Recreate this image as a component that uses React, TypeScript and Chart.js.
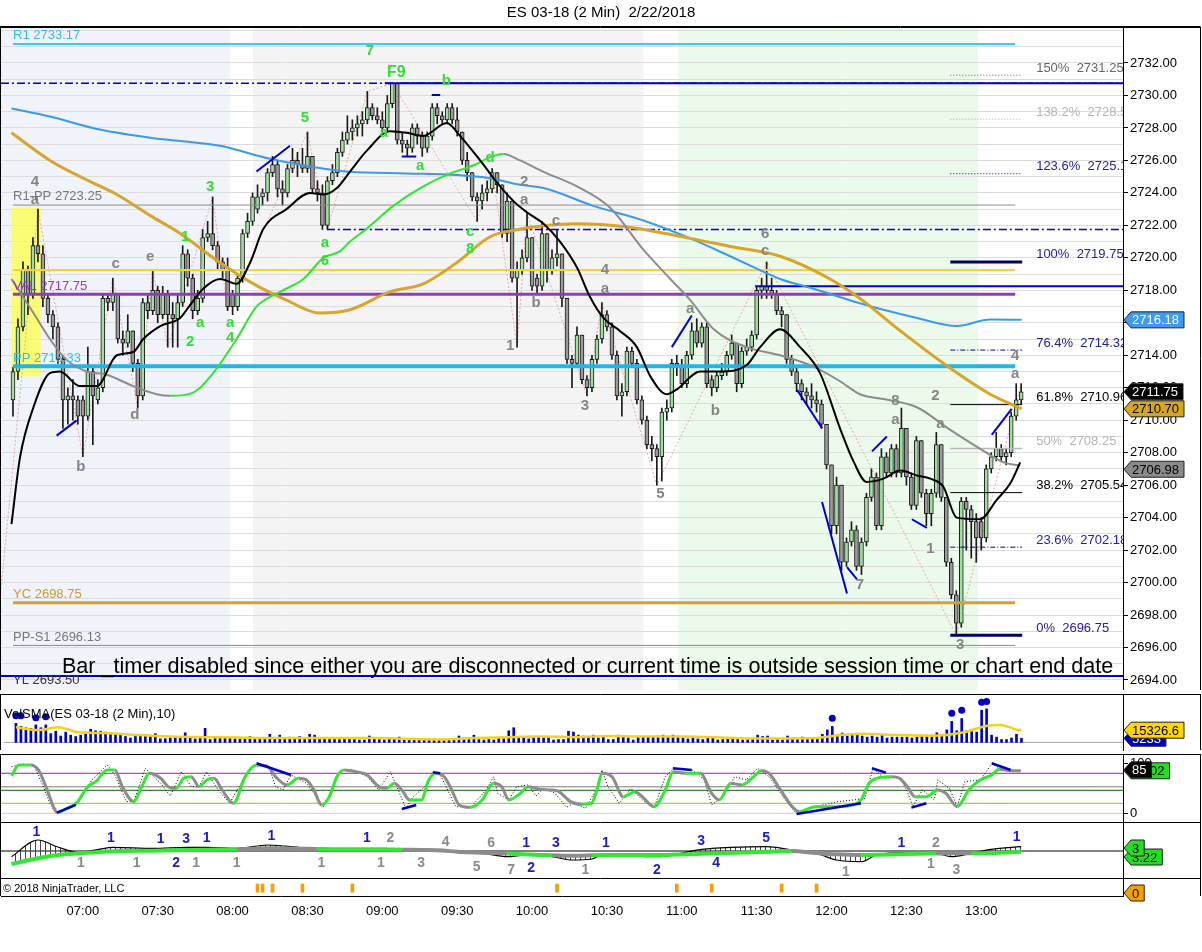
import React, { useEffect, useRef } from 'react';
import { Chart, registerables } from 'chart.js';

Chart.register(...registerables);

const FONT = 'Arial, "Liberation Sans", Helvetica, sans-serif';

// ---------------- data ----------------
const chartTitle = 'ES 03-18 (2 Min)  2/22/2018';
const firstBarTime = '06:32';
const barMinutes = 2;
const timeTickLabels = ['07:00', '07:30', '08:00', '08:30', '09:00', '09:30', '10:00', '10:30', '11:00', '11:30', '12:00', '12:30', '13:00'];

const opens = [
  2711.25, 2713.0, 2715.75, 2719.25, 2717.75, 2720.75, 2720.25, 2717.5, 2716.5, 2715.75,
  2713.75, 2711.25, 2711.5, 2711.25, 2711.25, 2710.25, 2713.0, 2711.25, 2712.0, 2717.5,
  2717.25, 2717.75, 2715.0, 2714.75, 2715.5, 2713.5, 2711.5, 2717.25, 2716.75, 2718.0,
  2716.5, 2717.75, 2716.5, 2716.25, 2717.25, 2720.25, 2718.75, 2716.75, 2717.5, 2721.25,
  2721.5, 2720.75, 2719.75, 2719.25, 2717.75, 2717.0, 2718.75, 2721.5, 2722.25, 2723.0,
  2723.75, 2724.0, 2725.25, 2725.75, 2724.25, 2724.0, 2725.5, 2726.0, 2725.75, 2725.5,
  2726.25, 2724.25, 2724.0, 2722.0, 2724.75, 2725.25, 2726.5, 2727.25, 2727.75, 2728.0,
  2728.25, 2728.5, 2729.25, 2728.75, 2728.5, 2728.0, 2729.5, 2730.75, 2727.25, 2727.0,
  2726.75, 2728.0, 2727.5, 2726.75, 2727.5, 2729.25, 2728.75, 2728.5, 2729.25, 2728.5,
  2727.75, 2726.0, 2725.25, 2723.75, 2723.5, 2724.0, 2724.25, 2725.25, 2724.5, 2721.5,
  2723.5, 2718.75, 2719.25, 2720.0, 2721.25, 2718.75, 2718.25, 2721.5, 2719.25, 2720.0,
  2720.25, 2717.5, 2713.75, 2713.5, 2715.25, 2712.5, 2712.0, 2713.75, 2715.0, 2716.5,
  2715.75, 2714.0, 2711.5, 2711.75, 2714.25, 2713.5, 2711.25, 2710.0, 2708.5, 2708.25,
  2707.75, 2710.5, 2710.75, 2713.5, 2713.25, 2712.25, 2714.0, 2715.5, 2714.75, 2715.75,
  2712.5, 2712.0, 2712.75, 2713.0, 2714.0, 2714.75, 2712.25, 2714.25, 2714.5, 2715.25,
  2718.0, 2718.25, 2718.0, 2717.75, 2716.75, 2716.5, 2713.75, 2713.0, 2712.25, 2711.75,
  2711.5, 2711.25, 2711.0, 2709.75, 2707.25, 2703.5, 2706.0, 2701.25, 2702.5, 2703.25,
  2701.0, 2702.5, 2705.25, 2706.5, 2703.5, 2707.75, 2706.75, 2708.25, 2706.75, 2709.5,
  2706.5, 2704.75, 2708.75, 2705.5, 2704.25, 2705.5, 2708.5, 2705.25, 2701.25, 2699.25,
  2697.5, 2705.0, 2704.5, 2703.75, 2703.75, 2702.75, 2707.0, 2707.75, 2708.25, 2707.75,
  2708.0, 2710.25, 2711.25,
];
const highs = [
  2713.25, 2716.25, 2719.75, 2719.5, 2721.25, 2723.0, 2720.75, 2717.75, 2716.75, 2716.0,
  2714.0, 2712.0, 2712.5, 2711.5, 2711.5, 2714.5, 2713.25, 2712.5, 2717.75, 2717.75,
  2718.75, 2717.75, 2715.5, 2716.5, 2715.5, 2713.75, 2717.5, 2717.75, 2719.25, 2718.25,
  2718.25, 2718.0, 2717.25, 2717.75, 2720.75, 2720.5, 2719.0, 2718.0, 2721.75, 2722.25,
  2723.75, 2721.0, 2720.0, 2720.0, 2718.0, 2719.0, 2721.75, 2722.75, 2724.0, 2724.5,
  2724.25, 2725.5, 2726.25, 2726.0, 2724.75, 2725.75, 2726.75, 2726.5, 2726.75, 2727.75,
  2726.25, 2724.75, 2724.5, 2725.0, 2725.75, 2726.75, 2727.75, 2728.75, 2728.5, 2728.75,
  2729.0, 2730.25, 2729.5, 2729.25, 2729.0, 2730.0, 2730.75, 2730.75, 2727.75, 2727.25,
  2728.25, 2728.25, 2727.75, 2727.75, 2729.5, 2729.5, 2729.0, 2729.5, 2729.5, 2729.25,
  2727.75, 2726.5, 2725.25, 2724.0, 2724.5, 2724.75, 2725.5, 2725.25, 2724.5, 2724.0,
  2723.5, 2719.75, 2720.5, 2722.75, 2721.25, 2719.0, 2722.25, 2721.5, 2720.5, 2721.75,
  2720.25, 2717.5, 2714.0, 2715.75, 2715.25, 2712.75, 2714.0, 2715.25, 2717.25, 2716.75,
  2716.0, 2714.25, 2712.25, 2714.5, 2714.5, 2713.75, 2711.5, 2710.25, 2709.0, 2708.5,
  2710.75, 2711.25, 2713.75, 2714.0, 2713.75, 2714.25, 2716.0, 2716.25, 2716.0, 2716.0,
  2712.75, 2713.0, 2713.5, 2714.25, 2715.25, 2714.75, 2714.5, 2715.0, 2715.5, 2718.25,
  2718.75, 2719.75, 2718.75, 2718.0, 2717.0, 2716.5, 2714.0, 2713.25, 2712.5, 2712.0,
  2712.25, 2711.75, 2711.25, 2709.75, 2707.25, 2706.5, 2706.0, 2702.75, 2703.75, 2703.5,
  2702.75, 2705.5, 2707.0, 2706.75, 2708.25, 2708.0, 2708.5, 2708.5, 2710.75, 2709.5,
  2706.75, 2709.0, 2708.75, 2705.75, 2705.75, 2709.25, 2708.5, 2705.25, 2701.5, 2699.5,
  2705.25, 2705.25, 2704.75, 2704.25, 2704.0, 2707.25, 2708.0, 2709.25, 2708.5, 2708.25,
  2710.5, 2712.25, 2712.25,
];
const lows = [
  2710.25, 2712.5, 2715.5, 2716.5, 2717.5, 2719.75, 2717.0, 2716.0, 2715.0, 2713.5,
  2709.5, 2709.75, 2710.0, 2709.75, 2707.75, 2710.0, 2708.5, 2711.0, 2711.75, 2716.75,
  2716.75, 2714.75, 2714.0, 2714.5, 2713.0, 2710.75, 2711.25, 2716.25, 2716.5, 2716.0,
  2716.25, 2714.5, 2714.5, 2714.5, 2717.0, 2718.25, 2716.25, 2716.5, 2717.25, 2721.0,
  2720.5, 2719.25, 2718.75, 2716.75, 2716.5, 2716.75, 2718.5, 2721.25, 2722.0, 2722.75,
  2723.25, 2723.5, 2725.0, 2723.75, 2723.25, 2723.75, 2725.25, 2725.0, 2725.25, 2725.25,
  2724.0, 2723.5, 2721.75, 2721.75, 2724.5, 2725.0, 2726.25, 2727.0, 2727.25, 2727.5,
  2727.5, 2728.25, 2728.5, 2728.25, 2727.75, 2727.75, 2729.25, 2727.0, 2726.5, 2726.25,
  2726.5, 2727.0, 2726.25, 2726.5, 2727.25, 2728.25, 2728.25, 2728.25, 2728.25, 2727.5,
  2725.75, 2724.75, 2723.5, 2722.25, 2723.0, 2723.5, 2724.0, 2724.0, 2721.25, 2721.0,
  2718.5, 2714.5, 2719.0, 2719.75, 2718.0, 2717.75, 2718.0, 2718.5, 2719.0, 2719.5,
  2717.0, 2713.5, 2712.0, 2713.25, 2712.25, 2711.5, 2711.75, 2713.5, 2714.75, 2715.5,
  2713.75, 2711.25, 2710.25, 2711.5, 2713.25, 2711.0, 2709.75, 2708.25, 2707.5, 2706.0,
  2706.25, 2710.0, 2710.5, 2712.75, 2712.0, 2712.0, 2713.75, 2714.5, 2714.5, 2712.0,
  2711.5, 2711.75, 2712.5, 2712.75, 2713.75, 2711.75, 2712.0, 2714.0, 2714.25, 2715.0,
  2717.5, 2717.5, 2717.5, 2716.5, 2715.75, 2713.5, 2712.75, 2711.75, 2711.25, 2711.0,
  2710.75, 2710.5, 2709.5, 2707.0, 2703.0, 2703.0, 2700.75, 2701.0, 2702.25, 2700.75,
  2700.5, 2702.25, 2705.0, 2703.25, 2703.25, 2706.5, 2706.5, 2706.5, 2706.5, 2706.0,
  2704.5, 2704.5, 2705.25, 2703.5, 2703.5, 2705.25, 2705.0, 2701.0, 2699.0, 2696.75,
  2697.25, 2702.0, 2701.5, 2701.25, 2702.0, 2702.5, 2706.75, 2707.5, 2707.5, 2707.25,
  2707.75, 2710.0, 2711.0,
];
const closes = [
  2713.0, 2715.75, 2719.25, 2717.75, 2720.75, 2720.25, 2717.5, 2716.5, 2715.75, 2713.75,
  2711.25, 2711.5, 2711.25, 2710.25, 2710.25, 2713.0, 2711.5, 2712.0, 2717.5, 2717.25,
  2717.75, 2715.0, 2714.75, 2715.5, 2713.5, 2711.5, 2717.25, 2716.75, 2718.0, 2716.5,
  2717.75, 2716.5, 2716.25, 2717.25, 2720.25, 2718.75, 2716.75, 2717.5, 2721.25, 2721.5,
  2720.75, 2719.75, 2719.25, 2717.0, 2717.0, 2718.75, 2721.5, 2722.25, 2723.75, 2723.75,
  2724.0, 2725.25, 2725.75, 2724.25, 2724.0, 2725.5, 2726.0, 2725.75, 2725.5, 2726.25,
  2724.25, 2724.0, 2722.0, 2724.75, 2725.25, 2726.5, 2727.25, 2727.75, 2728.0, 2728.25,
  2728.5, 2729.25, 2728.75, 2728.5, 2728.0, 2729.5, 2730.75, 2727.25, 2727.0, 2726.75,
  2728.0, 2727.5, 2726.75, 2727.5, 2729.25, 2728.75, 2728.5, 2729.25, 2728.5, 2727.75,
  2726.0, 2725.25, 2723.75, 2723.5, 2724.0, 2724.25, 2725.25, 2724.5, 2721.5, 2723.5,
  2718.75, 2719.25, 2720.0, 2721.25, 2718.25, 2718.25, 2721.5, 2719.25, 2720.0, 2720.25,
  2717.5, 2713.75, 2713.5, 2715.25, 2712.5, 2712.0, 2713.75, 2715.0, 2716.5, 2715.75,
  2714.0, 2711.5, 2711.75, 2714.25, 2713.5, 2711.25, 2710.0, 2708.5, 2708.25, 2707.75,
  2710.5, 2710.75, 2713.5, 2713.25, 2712.25, 2714.0, 2715.5, 2714.75, 2715.75, 2712.25,
  2712.0, 2712.75, 2713.0, 2714.0, 2714.75, 2712.25, 2714.25, 2714.5, 2715.25, 2718.0,
  2718.25, 2718.0, 2717.75, 2716.75, 2716.5, 2713.75, 2713.0, 2712.25, 2711.75, 2711.5,
  2711.25, 2711.0, 2709.75, 2707.25, 2703.5, 2706.0, 2701.25, 2702.5, 2703.25, 2701.0,
  2702.5, 2705.25, 2706.5, 2703.5, 2707.75, 2706.75, 2708.25, 2706.75, 2709.5, 2706.5,
  2704.75, 2708.75, 2705.5, 2704.25, 2705.5, 2708.5, 2705.25, 2701.25, 2699.25, 2697.5,
  2705.0, 2704.5, 2703.75, 2702.75, 2702.75, 2707.0, 2707.75, 2708.25, 2707.75, 2708.0,
  2710.25, 2711.25, 2711.75,
];
const volumes = [
  23900, 20100, 18400, 17600, 22000, 18400, 22000, 11000, 14000, 8000,
  12900, 9100, 7400, 9100, 12900, 16500, 14600, 14000, 12900, 11000,
  11000, 11000, 7400, 5500, 8500, 8500, 9900, 8500, 11000, 4400,
  4700, 5500, 7400, 7400, 12100, 5500, 4400, 5500, 17600, 3600,
  7400, 6300, 6300, 6300, 4700, 4400, 6300, 7400, 6300, 4400,
  6300, 10200, 6300, 9100, 6300, 6600, 6300, 7400, 6300, 10200,
  9100, 6300, 6300, 4700, 4400, 3600, 5500, 5500, 3600, 3000,
  3000, 8000, 5500, 3600, 3000, 4400, 4700, 6600, 4700, 4700,
  4700, 4700, 4400, 4400, 3600, 3000, 3000, 3000, 3600, 8000,
  5500, 5500, 9100, 3600, 3000, 3600, 3000, 6600, 4700, 14600,
  18400, 5500, 5500, 4400, 5500, 7400, 5500, 7400, 3000, 3600,
  3600, 14000, 12900, 9100, 8000, 7400, 9100, 5500, 6300, 3600,
  3600, 9100, 8000, 5500, 3000, 7400, 6300, 7400, 7400, 8000,
  9100, 7400, 9100, 8000, 5500, 4400, 6300, 4400, 3600, 5500,
  5500, 3000, 3600, 4400, 4400, 5500, 3000, 3600, 4400, 9100,
  7400, 8000, 3000, 4400, 3000, 8000, 5500, 4400, 6600, 5500,
  4400, 5500, 10200, 15700, 20100, 9100, 11800, 8000, 10200, 10200,
  8000, 6600, 8000, 6600, 9100, 5500, 6600, 6600, 6600, 6600,
  5500, 6600, 9100, 9100, 9100, 12100, 8000, 15700, 26400, 14600,
  30000, 14600, 15400, 12900, 40400, 42100, 9100, 6600, 3600, 3600,
  5500, 10200, 5233,
];
const volSma = [
  [0, 19000], [4.5, 15400], [8.5, 19000], [12.5, 12800], [17.8, 11700], [24.5, 9200], [31.2, 7300],
  [37.8, 6600], [44.5, 6200], [51.2, 5500], [57.9, 5500], [64.6, 5500], [72.2, 5500], [78.9, 4400],
  [85.5, 3700], [92.2, 5500], [98.9, 6600], [105.6, 7300], [112.3, 6600], [119, 8100], [125.7, 7300],
  [132.4, 7300], [140.4, 6600], [147, 4800], [153.7, 4800], [160.4, 5500], [165.7, 9200], [170.4, 11000],
  [177, 9200], [183.8, 8400], [190.5, 12800], [195.1, 21000], [197.8, 22000], [201.1, 16000], [202, 15326.6],
];
const volDotBars = [0, 1, 4, 6, 164, 188, 190, 194, 195];
const volDotValues = [33600, 33600, 31100, 32200, 30400, 36600, 40300, 50600, 51300];
const volTagValues = [5233, 15326.6];

const fastMA = [
  [-0.3, 2703.6], [1.4, 2707.7], [4.1, 2710.8], [7.4, 2712.9], [9.4, 2713.0], [13.4, 2712.1], [16.8, 2712.1],
  [20.8, 2714.0], [24.1, 2714.2], [26.1, 2715.0], [29.5, 2715.8], [33.5, 2716.3], [35.5, 2717.1], [38.1, 2718.1],
  [41.5, 2718.7], [44.8, 2718.4], [47.5, 2719.7], [50.2, 2721.8], [54.8, 2723.0], [59.5, 2724.0], [62.2, 2723.9],
  [64.9, 2724.3], [67.5, 2725.3], [70.9, 2726.6], [75.5, 2727.8], [78.9, 2727.7], [82.2, 2727.5], [86.9, 2728.3],
  [89.6, 2727.5], [93.6, 2726.0], [97.6, 2724.4], [100.6, 2723.4], [103, 2722.8], [106.3, 2722.1], [109.6, 2721.0],
  [113, 2719.4], [115.6, 2717.6], [118.3, 2716.3], [121.6, 2715.5], [125, 2714.5], [127.7, 2712.7], [131, 2711.6],
  [133, 2711.9], [137.7, 2713.0], [141.7, 2713.0], [147, 2713.4], [149.7, 2714.5], [153.7, 2715.6], [157.7, 2714.5],
  [161.7, 2712.9], [165.7, 2709.5], [168.5, 2707.4], [171, 2706.2], [174.4, 2706.4], [177.8, 2706.9], [181.1, 2706.6],
  [183.8, 2706.4], [186.4, 2705.9], [189.1, 2704.0], [193.8, 2703.9], [197.1, 2705.1], [199.8, 2706.1], [201.8, 2707.4],
];
const midMA = [
  [-0.3, 2718.7], [4.1, 2716.6], [7.4, 2715.0], [10.8, 2713.7], [14.8, 2713.0], [18.8, 2712.8], [24.1, 2712.1],
  [28.8, 2711.6], [31.5, 2711.5], [36.1, 2711.7], [40.1, 2712.9], [44.8, 2715.0], [48.8, 2717.0], [53.5, 2717.9],
  [58.2, 2718.7], [62.2, 2720.0], [65.5, 2720.4], [67.5, 2721.0], [70.9, 2721.8], [76.2, 2723.2], [82.2, 2724.4],
  [87.6, 2725.2], [92.3, 2725.7], [95.6, 2726.2], [98.3, 2726.4], [101.6, 2726.0], [106.3, 2725.3], [113, 2724.4],
  [119.6, 2723.1], [126.3, 2720.5], [131.7, 2718.7], [135.7, 2717.4], [140.4, 2715.6], [147, 2714.5], [153.7, 2714.0],
  [160.4, 2713.3], [165.7, 2712.4], [169.7, 2711.6], [174.4, 2711.3], [181.1, 2710.8], [187.8, 2709.4], [194.5, 2708.1],
  [198.5, 2707.4], [201.8, 2707.2],
];
const blueMA = [
  [-0.3, 2729.2], [7.4, 2728.7], [17.4, 2727.9], [27.5, 2727.4], [33.5, 2727.2], [41.5, 2726.9], [51.5, 2726.1],
  [58.2, 2725.7], [67.5, 2725.3], [78.9, 2725.2], [88.9, 2725.1], [95.6, 2724.9], [101.6, 2724.5], [106.3, 2724.3],
  [116.3, 2723.2], [126.3, 2722.3], [135.7, 2721.2], [143.7, 2720.1], [153.7, 2718.7], [160.4, 2718.1], [169.7, 2717.2],
  [174.4, 2716.8], [181.1, 2716.3], [189.1, 2715.8], [195.8, 2716.2], [202.1, 2716.18],
];
const goldMA = [
  [-0.3, 2727.7], [7.4, 2726.0], [14.1, 2724.9], [20.8, 2723.9], [27.5, 2722.6], [33.5, 2721.5], [41.5, 2719.7],
  [48.2, 2718.4], [54.8, 2717.4], [61.5, 2716.6], [67.5, 2716.8], [75.5, 2717.9], [82.2, 2718.4], [88.9, 2719.7],
  [95.6, 2721.3], [100.3, 2721.7], [113, 2722.1], [123, 2721.9], [135.7, 2721.2], [143.7, 2720.7], [153.7, 2720.1],
  [163.7, 2718.7], [169.7, 2717.5], [177.8, 2715.5], [187.8, 2713.2], [195.8, 2711.6], [202.1, 2710.7],
];
const zigzag = [
  [-2.4, 2699.6], [5, 2723.0], [14, 2707.75], [20, 2718.75], [25, 2710.75], [28, 2719.25], [31, 2714.5],
  [40, 2723.75], [43, 2716.75], [59, 2727.75], [63, 2721.75], [71, 2730.25], [76, 2730.75], [93, 2722.25],
  [96, 2725.5], [101, 2714.5], [103, 2722.75], [115, 2711.5], [118, 2717.25], [129, 2706.0], [151, 2719.75],
  [189, 2696.75], [202, 2712.25],
];
const trendSegments = [
  [[8.75, 2709.05], [12.76, 2709.99]], [[48.8, 2725.32], [55.5, 2726.9]], [[77.9, 2726.24], [80.8, 2726.24]],
  [[83.9, 2730.03], [85.6, 2730.03]], [[132, 2714.5], [136, 2716.45]], [[157.1, 2711.87], [162.1, 2709.5]],
  [[162.1, 2704.96], [167.1, 2699.33]], [[167.1, 2700.95], [169.1, 2700.2]], [[172.1, 2708.08], [175.1, 2709.0]],
  [[180.1, 2703.9], [183.1, 2703.37]], [[196.1, 2709.1], [200.1, 2710.7]],
];
// horizontal levels: [fromBar, toBar, price]
const levelLines = [
  [0, 200.8, 2733.17], [-2.4, 222.4, 2730.75], [74.5, 222.4, 2730.75], [0, 200.8, 2723.25],
  [62.9, 222.4, 2721.75], [0, 200.8, 2719.25], [148.7, 222.4, 2718.25], [0, 200.8, 2717.75],
  [0, 200.8, 2713.33], [0, 200.8, 2698.75], [0, 200.8, 2696.13], [-2.4, 222.4, 2694.25],
];
const levelLabelTexts = ['R1 2733.17', 'R1-PP 2723.25', 'VAL 2717.75', 'PP 2713.33', 'YC 2698.75', 'PP-S1 2696.13', 'YL 2693.50'];
const levelLabelPrices = [2733.72, 2723.81, 2718.27, 2713.83, 2699.24, 2696.65, 2694.0];
const fibPercents = ['150%', '138.2%', '123.6%', '100%', '76.4%', '61.8%', '50%', '38.2%', '23.6%', '0%'];
const fibPrices = [2731.25, 2728.54, 2725.18, 2719.75, 2714.32, 2710.96, 2708.25, 2705.54, 2702.18, 2696.75];
const fibSpan = [187.8, 202.2];
const sessionZones = [[-2.4, 43.5], [48.1, 126.3], [133.3, 193.4]];
const highlightBox = [[-0.3, 5.55], [2712.7, 2723.1]];
const priceTags = [2716.18, 2711.75, 2710.70, 2706.98];
const grayLabels = [
  [4.4, 2724.7, '4'], [4.4, 2723.56, 'a'], [13.6, 2707.1, 'b'], [20.6, 2719.6, 'c'], [24.4, 2710.3, 'd'],
  [27.5, 2720.05, 'e'], [99.6, 2714.6, '1'], [102.4, 2724.7, '2'], [102.4, 2723.6, 'a'], [104.8, 2717.2, 'b'],
  [108.8, 2722.3, 'c'], [114.6, 2710.9, '3'], [118.6, 2719.25, '4'], [118.6, 2718.1, 'a'], [129.7, 2705.45, '5'],
  [135.7, 2716.85, 'a'], [140.7, 2710.6, 'b'], [150.7, 2721.5, '6'], [150.7, 2720.4, 'c'], [169.7, 2699.85, '7'],
  [176.8, 2711.2, '8'], [176.8, 2710.0, 'a'], [184.8, 2711.5, '2'], [185.8, 2709.8, 'a'], [183.8, 2702.1, '1'],
  [189.8, 2696.15, '3'], [200.8, 2713.95, '4'], [200.8, 2712.85, 'a'],
];
const greenLabels = [
  [71.5, 2732.74, '7'], [76.8, 2731.4, 'F9'], [86.8, 2730.9, 'b'], [74.3, 2727.7, 'a'], [81.6, 2725.65, 'a'],
  [58.5, 2728.6, '5'], [39.5, 2724.4, '3'], [34.5, 2721.3, '1'], [37.5, 2716.0, 'a'], [35.5, 2714.8, '2'],
  [43.5, 2716.0, 'a'], [43.5, 2715.05, '4'], [62.5, 2720.9, 'a'], [62.5, 2719.8, '6'], [91.6, 2721.6, 'c'],
  [91.6, 2720.55, '8'], [95.6, 2726.15, 'd'],
];
const timerText = 'Bar _timer disabled since either you are disconnected or current time is outside session time or chart end date';
const timerAnchor = [9.8, 2694.8];

const stochD = [
  [-0.3, 74.7], [1.2, 96.7], [3.5, 96.7], [5.1, 86.7], [6.6, 53.3], [8.1, 13.3], [8.9, 1.3], [10.8, 10], [12.7, 20],
  [15.0, 53.3], [16.6, 63.3], [18.9, 86.7], [20.4, 86.7], [21.9, 53.3], [24.2, 23.3], [25.8, 53.3], [27.3, 80],
  [29.6, 70], [31.1, 53.3], [32.7, 50], [34.2, 70], [35.7, 73.3], [37.3, 53.3], [38.8, 66.7], [40.3, 70], [41.9, 46.7],
  [44.2, 20], [46.5, 73.3], [48.8, 96.7], [51.1, 93.3], [52.6, 73.3], [54.9, 56.7], [57.2, 70], [58.8, 66.7],
  [60.3, 46.7], [61.8, 16.7], [63.4, 33.3], [64.9, 73.3], [66.4, 86.7], [68.7, 83.3], [71.0, 76.7], [73.3, 53.3],
  [74.9, 50], [76.4, 60], [77.9, 46.7], [79.5, 26.7], [81.8, 26.7], [83.3, 66.7], [84.8, 80], [86.4, 73.3],
  [87.9, 46.7], [89.4, 16.7], [91.7, 12], [94.0, 26.7], [96.3, 60], [97.9, 53.3], [99.4, 26.7], [101.7, 40],
  [103.2, 53.3], [105.5, 48], [107.8, 46.7], [109.4, 43.3], [111.7, 23.3], [114.0, 18], [115.9, 20], [117.0, 46.7],
  [118.0, 80], [120.0, 73.3], [122.3, 33.3], [124.6, 43.3], [126.1, 33.3], [128.4, 13.3], [130.7, 46.7], [132.3, 83.3],
  [134.6, 80], [137.7, 80], [140.0, 40], [141.5, 26.7], [143.8, 60], [146.1, 56.7], [148.4, 73.3], [149.9, 85.3],
  [151.5, 80], [153.8, 46.7], [156.1, 13.3], [157.6, 3.3], [160.7, 13.3], [165.3, 13.3], [168.4, 16.7], [169.9, 26.7],
  [171.5, 60], [173.8, 72], [176.1, 73.3], [177.6, 70], [179.2, 53.3], [180.7, 33.3], [183.0, 33.3], [185.3, 46.7],
  [186.9, 40], [189.2, 13.3], [191.5, 46.7], [193.8, 66.7], [196.1, 76.7], [197.6, 88], [199.9, 85.3], [201.9, 85.02],
];
const stochK = [
  [-0.3, 93.3], [2.0, 98.7], [4.3, 93.3], [5.8, 60], [7.4, 20], [8.5, 1.3], [11.2, 13.3], [13.5, 26.7], [15.8, 66.7],
  [18.9, 96.7], [20.4, 76.7], [22.7, 23.3], [24.2, 23.3], [26.5, 90], [29.6, 60], [31.5, 34.7], [33.8, 83.3],
  [35.7, 53.3], [37.3, 53.3], [38.8, 83.3], [41.1, 46.7], [43.4, 20], [45.7, 60], [47.6, 93.3], [51.1, 96.7],
  [52.6, 53.3], [54.1, 46.7], [55.7, 76.7], [58.8, 60], [60.3, 40], [62.2, 13.3], [64.1, 53.3], [65.7, 86.7],
  [67.9, 86.7], [71.0, 73.3], [73.3, 46.7], [75.6, 83.3], [77.2, 46.7], [78.7, 10], [80.2, 33.3], [82.5, 53.3],
  [84.1, 80], [85.6, 76.7], [87.1, 46.7], [88.7, 13.3], [91.7, 12], [94.8, 46.7], [96.3, 73.3], [97.1, 40],
  [99.4, 26.7], [100.9, 53.3], [103.2, 56.7], [104.8, 34.7], [106.3, 50], [108.6, 40], [110.9, 12], [112.4, 20],
  [114.7, 10], [117.0, 50], [118.0, 86.7], [119.2, 53.3], [121.5, 20], [123.8, 50], [126.1, 26.7], [128.4, 10],
  [130.7, 73.3], [132.3, 88.7], [136.1, 86.7], [138.5, 66.7], [140.0, 16.7], [142.3, 33.3], [144.6, 73.3],
  [146.9, 66.7], [149.2, 90], [151.5, 73.3], [153.8, 40], [156.9, 0], [160.7, 13.3], [165.3, 23.3], [168.4, 26.7],
  [170.7, 30], [172.3, 90], [174.6, 70], [177.6, 73.3], [179.2, 43.3], [180.3, 13.3], [182.2, 46.7], [184.6, 26.7],
  [185.3, 66.7], [187.6, 50], [189.2, 13.3], [190.7, 63.3], [193.8, 66.7], [196.1, 98.7], [198.4, 86.7],
  [200.7, 85.3], [201.9, 85.3],
];
const stochSegments = [
  [[8.8, 1.3], [12.6, 16.7]], [[48.8, 100], [55.7, 76.7]], [[77.9, 8.7], [80.8, 16.7]], [[84.1, 82], [85.6, 80]],
  [[132.2, 90], [136.0, 86.7]], [[157, -1.3], [169.9, 20]], [[172.1, 90], [174.9, 81.3]], [[180, 11.3], [183, 20]],
  [[196.1, 100], [199.9, 86.7]],
];
const stochLevels = [80, 53, 46, 20, 0];
const stochTicks = [0, 100];
const stochTags = ['85.02', '85'];

const oscFast = [
  [-0.3, -5.7], [5, 11], [9, 4], [13, -1.3], [17, 1.5], [20, 3.7], [28, 2.7], [35, 3.7], [39, 3.7], [45, 2.7],
  [51, 6], [56, 4.3], [61, 1], [66, 1.7], [74, 1.7], [78, 1], [82, 0.3], [86, 1], [89, -1.3], [94, -2.3],
  [99, -5.7], [103, -4], [108, -5.7], [112, -9], [116, -8], [118, -4], [129, -5.7], [138, 1.7], [151, 4.3],
  [156, 1], [161, -2.5], [165, -9], [170, -10.7], [173, -4], [179, -1.7], [185, -2.3], [188, -5.7], [192, -2.3],
  [196, 1.7], [202, 4.3],
];
const oscSlow = [
  [-0.3, -13], [5, -7.3], [9, -4], [13, -2.3], [17, -1.2], [20, -0.3], [28, 0.3], [35, 1], [39, 1.3], [45, 1.7],
  [51, 2.7], [56, 2.5], [61, 2], [66, 1.7], [74, 1.7], [78, 1.3], [82, 1], [86, 0.5], [89, -0.7], [94, -1.7],
  [99, -2.5], [103, -3.5], [108, -4.2], [112, -4.7], [116, -4.3], [118, -4], [129, -4], [138, -2.8], [151, -0.7],
  [156, 0], [161, -2], [165, -3.3], [170, -4], [173, -3.8], [179, -3], [185, -2.5], [188, -2.3], [192, -2.3],
  [196, -2], [202, -0.7],
];
const oscGrayRanges = [[43, 59], [76, 98], [104, 114], [152, 170], [184, 191]];
const oscBlueLabels = [
  [4.7, 19.3, '1'], [19.6, 13, '1'], [29.6, 12, '1'], [34.7, 12, '3'], [38.8, 13, '1'], [51.8, 15, '1'],
  [70.9, 13, '1'], [32.7, -12, '2'], [102.8, 8, '1'], [108.8, 8, '3'], [103.8, -17, '2'], [118.8, 8, '1'],
  [129, -19, '2'], [137.9, 10, '3'], [140.9, -12, '4'], [150.9, 13, '5'], [178, 8.3, '1'], [201.1, 14.3, '1'],
];
const oscGrayLabels = [
  [13.6, -12, '1'], [24.8, -12, '1'], [36.7, -12, '1'], [44.8, -12, '1'], [61.8, -12, '1'], [73.7, -12, '1'],
  [75.6, 13, '2'], [81.8, -12, '3'], [86.7, 9, '4'], [92.9, -16, '5'], [95.8, 8, '6'], [99.8, -19, '7'],
  [114.7, -19, '1'], [166.9, -20.7, '1'], [184.9, 8, '2'], [183.9, -13, '1'], [189, -19, '3'],
];
const oscTags = [['3.22', -6], ['3', 3]];
const markerBars = [49, 50, 52, 58, 68, 109, 133, 140, 154, 161];
const copyrightText = '\u00a9 2018 NinjaTrader, LLC';
const volTitle = 'VolSMA(ES 03-18 (2 Min),10)';

// ---------------- layout constants ----------------
const W = 1202;
const X_MIN = -2.4;
const X_MAX = 222.4;
const AXIS_W = 79;
const GREEN = '#33e633';
const GRAY = '#8c8c8c';

const toMin = (s: string) => {
  const [h, m] = s.split(':').map(Number);
  return h * 60 + m;
};
const timeTickBars = timeTickLabels.map((t) => (toMin(t) - toMin(firstBarTime)) / barMinutes);

const pts = (pairs: number[][]) => pairs.map(([x, y]) => ({ x, y }));
const lineDs = (data: any[], color: string, width: number, extra: any = {}) => ({
  type: 'line',
  data,
  borderColor: color,
  borderWidth: width,
  pointRadius: 0,
  fill: false,
  tension: 0,
  ...extra,
});

const fitY = (s: any) => {
  s.width = AXIS_W;
  s.paddingTop = 0;
  s.paddingBottom = 0;
  s.paddingLeft = 0;
  s.paddingRight = 0;
};

const xHidden = { type: 'linear', min: X_MIN, max: X_MAX, offset: false, display: false };

const baseOptions = () => ({
  responsive: false,
  animation: false,
  events: [],
  devicePixelRatio: 1,
  layout: { padding: { left: 1, right: 0, top: 0, bottom: 0 } },
  plugins: { legend: { display: false }, tooltip: { enabled: false }, title: { display: false } },
});

function drawTag(ctx: CanvasRenderingContext2D, x: number, y: number, text: string, bg: string, fg: string) {
  ctx.save();
  ctx.font = `13px ${FONT}`;
  const w = ctx.measureText(text).width + 13;
  ctx.beginPath();
  ctx.moveTo(x, y);
  ctx.lineTo(x + 7, y - 8);
  ctx.lineTo(x + w, y - 8);
  ctx.lineTo(x + w, y + 8);
  ctx.lineTo(x + 7, y + 8);
  ctx.closePath();
  ctx.fillStyle = bg;
  ctx.fill();
  ctx.strokeStyle = '#222';
  ctx.lineWidth = 1;
  ctx.stroke();
  ctx.fillStyle = fg;
  ctx.textAlign = 'left';
  ctx.textBaseline = 'middle';
  ctx.fillText(text, x + 8, y + 1);
  ctx.restore();
}

function drawFrame(chart: any) {
  const { ctx, chartArea: a } = chart;
  ctx.save();
  ctx.strokeStyle = '#000';
  ctx.lineWidth = 1;
  ctx.beginPath();
  ctx.moveTo(0, a.top + 0.5);
  ctx.lineTo(1200.5, a.top + 0.5);
  ctx.moveTo(0.5, a.top);
  ctx.lineTo(0.5, a.bottom);
  ctx.moveTo(1200.5, a.top);
  ctx.lineTo(1200.5, a.bottom);
  ctx.stroke();
  ctx.restore();
}

function drawTexts(chart: any, items: any[], color: string, font: string) {
  const { ctx, scales } = chart;
  ctx.save();
  ctx.fillStyle = color;
  ctx.font = font;
  ctx.textAlign = 'center';
  ctx.textBaseline = 'middle';
  items.forEach(([x, y, t]) => {
    ctx.fillText(t, scales.x.getPixelForValue(x), scales.y.getPixelForValue(y));
  });
  ctx.restore();
}

// ---------------- charts ----------------
function buildPrice(canvas: HTMLCanvasElement) {
  const levelStyles = [
    { c: '#33ccff', w: 2 }, { c: '#0000cc', w: 1.5, d: [8, 3, 2, 3] }, { c: '#0000cc', w: 2 }, { c: '#8a8a8a', w: 1 },
    { c: '#0000dd', w: 1.5, d: [8, 3, 2, 3] }, { c: '#ffd21f', w: 2 }, { c: '#0000cc', w: 2 }, { c: '#9933cc', w: 3 },
    { c: '#1ab6f0', w: 4 }, { c: '#d4a030', w: 3 }, { c: '#8a8a8a', w: 1 }, { c: '#0000cc', w: 2 },
  ];
  const fibStyles = [
    { c: '#666', w: 1, d: [1, 2] }, { c: '#aaa', w: 1, d: [1, 2] }, { c: '#000080', w: 1, d: [1, 2] }, { c: '#000066', w: 3 },
    { c: '#000080', w: 1, d: [5, 2, 1, 2] }, { c: '#000', w: 1 }, { c: '#b8b8b8', w: 1.5 }, { c: '#000', w: 1 },
    { c: '#000080', w: 1, d: [5, 2, 1, 2] }, { c: '#000066', w: 3 },
  ];
  const fibColors = ['#666666', '#b4b4b4', '#22229a', '#22229a', '#22229a', '#000', '#b4b4b4', '#000', '#22229a', '#22229a'];
  const levelLabelColors = ['#33bbee', '#777', '#9933cc', '#33c4dd', '#c89a30', '#777', '#333'];
  const tagStyles = [['#3d9cf0', '#fff'], ['#000', '#fff'], ['#d9a521', '#000'], ['#8a8a8a', '#000']];

  const datasets: any[] = [];
  datasets.push(lineDs(pts(zigzag), '#e8a8a8', 1, { borderDash: [2, 2], order: 40 }));
  datasets.push({
    type: 'bar',
    data: highs.map((h, i) => ({ x: i, y: [lows[i], h] })),
    backgroundColor: '#1a1a1a',
    barThickness: 1,
    grouped: false,
    order: 30,
  });
  datasets.push({
    type: 'bar',
    data: closes.map((c, i) => ({ x: i, y: [opens[i], c] })),
    backgroundColor: (c: any) => (closes[c.dataIndex] >= opens[c.dataIndex] ? '#9fe09f' : '#9a9a9a'),
    borderColor: '#1a1a1a',
    borderWidth: 1,
    borderSkipped: false,
    barThickness: 4,
    minBarLength: 1,
    grouped: false,
    order: 29,
  });
  levelLines.forEach(([a, b, p], k) => {
    const s: any = levelStyles[k];
    datasets.push(lineDs([{ x: a, y: p }, { x: b, y: p }], s.c, s.w, { borderDash: s.d || [], order: 20 }));
  });
  fibPrices.forEach((p, k) => {
    const s: any = fibStyles[k];
    datasets.push(lineDs([{ x: fibSpan[0], y: p }, { x: fibSpan[1], y: p }], s.c, s.w, { borderDash: s.d || [], order: 20 }));
  });
  datasets.push(lineDs(pts(blueMA), '#3a9ae8', 2, { cubicInterpolationMode: 'monotone', order: 12 }));
  datasets.push(lineDs(pts(goldMA), '#d6a52a', 3, { cubicInterpolationMode: 'monotone', order: 11 }));
  datasets.push(
    lineDs(pts(midMA), GRAY, 2, {
      cubicInterpolationMode: 'monotone',
      order: 10,
      segment: { borderColor: (c: any) => (c.p1.parsed.y >= c.p0.parsed.y ? '#2ee62e' : GRAY) },
    }),
  );
  datasets.push(lineDs(pts(fastMA), '#000', 2, { cubicInterpolationMode: 'monotone', order: 9 }));
  trendSegments.forEach((seg) => datasets.push(lineDs(pts(seg), '#0000cc', 2, { order: 5 })));

  const decor = {
    id: 'priceDecor',
    beforeDraw(chart: any) {
      const { ctx, chartArea: a, scales } = chart;
      const zoneColors = ['#f1f3fa', '#f4f4f4', '#ebfaeb'];
      ctx.save();
      sessionZones.forEach(([s, e], k) => {
        const x1 = Math.max(a.left, scales.x.getPixelForValue(s));
        const x2 = Math.min(a.right, scales.x.getPixelForValue(e));
        ctx.fillStyle = zoneColors[k];
        ctx.fillRect(x1, a.top, x2 - x1, a.bottom - a.top);
      });
      ctx.restore();
    },
    beforeDatasetsDraw(chart: any) {
      const { ctx, scales } = chart;
      const [[bx0, bx1], [by0, by1]] = highlightBox;
      const x0 = scales.x.getPixelForValue(bx0);
      const x1 = scales.x.getPixelForValue(bx1);
      const y0 = scales.y.getPixelForValue(by1);
      const y1 = scales.y.getPixelForValue(by0);
      ctx.save();
      ctx.fillStyle = 'rgba(255,255,60,0.7)';
      ctx.fillRect(x0, y0, x1 - x0, y1 - y0);
      ctx.restore();
    },
    afterDatasetsDraw(chart: any) {
      const { ctx, chartArea: a, scales } = chart;
      ctx.save();
      ctx.beginPath();
      ctx.rect(a.left, a.top, a.right - a.left, a.bottom - a.top);
      ctx.clip();
      drawTexts(chart, grayLabels, '#858585', `bold 15px ${FONT}`);
      drawTexts(chart, greenLabels.filter((g) => g[2] !== 'F9'), '#33dd33', `bold 15px ${FONT}`);
      drawTexts(chart, greenLabels.filter((g) => g[2] === 'F9'), '#33dd33', `bold 16px ${FONT}`);
      ctx.textAlign = 'left';
      ctx.textBaseline = 'middle';
      ctx.font = `13px ${FONT}`;
      levelLabelTexts.forEach((t, k) => {
        ctx.fillStyle = levelLabelColors[k];
        ctx.fillText(t, 13, scales.y.getPixelForValue(levelLabelPrices[k]));
      });
      fibPercents.forEach((pc, k) => {
        ctx.fillStyle = fibColors[k];
        ctx.fillText(`${pc}  ${fibPrices[k].toFixed(2)}`, scales.x.getPixelForValue(205), scales.y.getPixelForValue(fibPrices[k]) - 7);
      });
      ctx.fillStyle = '#000';
      ctx.font = `21.6px ${FONT}`;
      ctx.fillText(timerText, scales.x.getPixelForValue(timerAnchor[0]), scales.y.getPixelForValue(timerAnchor[1]));
      ctx.restore();
    },
    afterDraw(chart: any) {
      const { ctx, chartArea: a, scales } = chart;
      ctx.save();
      ctx.fillStyle = '#000';
      ctx.font = `15px ${FONT}`;
      ctx.textAlign = 'center';
      ctx.textBaseline = 'middle';
      ctx.fillText(chartTitle, 601, 13);
      ctx.restore();
      priceTags.forEach((v, k) => {
        drawTag(ctx, a.right + 1, scales.y.getPixelForValue(v), v.toFixed(2), tagStyles[k][0], tagStyles[k][1]);
      });
      drawFrame(chart);
      ctx.save();
      ctx.strokeStyle = '#000';
      ctx.beginPath();
      ctx.moveTo(0, a.top - 0.5);
      ctx.lineTo(1200.5, a.top - 0.5);
      ctx.stroke();
      ctx.restore();
    },
  };

  return new Chart(canvas, {
    type: 'bar',
    data: { datasets },
    options: {
      ...baseOptions(),
      layout: { padding: { left: 1, right: 0, top: 27, bottom: 0 } },
      scales: {
        x: xHidden,
        y: {
          position: 'right',
          min: 2693.384,
          max: 2734.217,
          afterBuildTicks: (s: any) => {
            const t = [];
            for (let v = 2694; v <= 2734; v++) t.push({ value: v });
            s.ticks = t;
          },
          afterFit: fitY,
          ticks: {
            autoSkip: false,
            padding: 2,
            color: '#000',
            font: { family: FONT, size: 13 },
            callback: (v: any) => (v % 2 === 0 && v <= 2732 ? Number(v).toFixed(2) : ''),
          },
          grid: {
            color: '#dcdcdc',
            drawTicks: true,
            tickLength: 5,
            tickColor: (c: any) => (c.tick && c.tick.value % 2 === 0 && c.tick.value <= 2732 ? '#000' : 'rgba(0,0,0,0)'),
          },
          border: { display: true, color: '#000' },
        },
      },
    } as any,
    plugins: [decor],
  } as any);
}

function buildVolume(canvas: HTMLCanvasElement) {
  const datasets: any[] = [
    lineDs([{ x: X_MIN, y: 0 }, { x: X_MAX, y: 0 }], '#a0a0a0', 1, { order: 5 }),
    {
      type: 'bar',
      data: volumes.map((v, i) => ({ x: i, y: v })),
      backgroundColor: '#0000cc',
      barThickness: 2,
      grouped: false,
      order: 4,
    },
    lineDs(pts(volSma), '#f2d21a', 2.5, { cubicInterpolationMode: 'monotone', order: 3 }),
    {
      type: 'line',
      data: volDotBars.map((x, k) => ({ x, y: volDotValues[k] })),
      showLine: false,
      pointRadius: 3.5,
      pointBackgroundColor: '#0000cc',
      pointBorderWidth: 0,
      order: 2,
    },
  ];
  const decor = {
    id: 'volDecor',
    afterDatasetsDraw(chart: any) {
      const { ctx, chartArea: a } = chart;
      ctx.save();
      ctx.fillStyle = '#000';
      ctx.font = `13px ${FONT}`;
      ctx.textAlign = 'left';
      ctx.textBaseline = 'middle';
      ctx.fillText(volTitle, 4, a.top + 20);
      ctx.restore();
    },
    afterDraw(chart: any) {
      const { ctx, chartArea: a, scales } = chart;
      drawTag(ctx, a.right + 1, scales.y.getPixelForValue(volTagValues[0]), String(volTagValues[0]), '#0000cc', '#fff');
      drawTag(ctx, a.right + 1, scales.y.getPixelForValue(volTagValues[1]), String(volTagValues[1]), '#ffd700', '#000');
      drawFrame(chart);
    },
  };
  return new Chart(canvas, {
    type: 'bar',
    data: { datasets },
    options: {
      ...baseOptions(),
      scales: {
        x: xHidden,
        y: {
          position: 'right',
          min: -9570,
          max: 60830,
          afterFit: fitY,
          ticks: { display: false },
          grid: { display: false },
          border: { display: true, color: '#000' },
        },
      },
    } as any,
    plugins: [decor],
  } as any);
}

function buildStoch(canvas: HTMLCanvasElement) {
  const levelColors = ['#cc00cc', '#7a7a7a', '#006600', '#88cc11', '#cccccc'];
  const datasets: any[] = [];
  stochLevels.forEach((v, k) => datasets.push(lineDs([{ x: X_MIN, y: v }, { x: X_MAX, y: v }], levelColors[k], 1, { order: 10 })));
  datasets.push(lineDs(pts(stochK), '#000', 1, { borderDash: [1, 2], order: 6 }));
  datasets.push(
    lineDs(pts(stochD), GRAY, 3, {
      cubicInterpolationMode: 'monotone',
      order: 5,
      segment: { borderColor: (c: any) => (c.p1.parsed.y >= c.p0.parsed.y ? GREEN : GRAY) },
    }),
  );
  stochSegments.forEach((s) => datasets.push(lineDs(pts(s), '#0000cc', 2.5, { order: 2 })));
  const decor = {
    id: 'stochDecor',
    afterDraw(chart: any) {
      const { ctx, chartArea: a, scales } = chart;
      const y = scales.y.getPixelForValue(85.02);
      drawTag(ctx, a.right + 1, y, stochTags[0], '#22dd22', '#000');
      drawTag(ctx, a.right + 1, y - 1, stochTags[1], '#000', '#fff');
      drawFrame(chart);
    },
  };
  return new Chart(canvas, {
    type: 'line',
    data: { datasets },
    options: {
      ...baseOptions(),
      scales: {
        x: xHidden,
        y: {
          position: 'right',
          min: -17.4,
          max: 118.6,
          afterBuildTicks: (s: any) => {
            s.ticks = stochTicks.map((v) => ({ value: v }));
          },
          afterFit: fitY,
          ticks: { autoSkip: false, padding: 2, color: '#000', font: { family: FONT, size: 13 }, callback: (v: any) => String(v) },
          grid: { drawOnChartArea: false, drawTicks: true, tickLength: 5, tickColor: '#000' },
          border: { display: true, color: '#000' },
        },
      },
    } as any,
    plugins: [decor],
  } as any);
}

function buildOsc(canvas: HTMLCanvasElement) {
  const pc = document.createElement('canvas');
  pc.width = 5;
  pc.height = 4;
  const pctx = pc.getContext('2d') as CanvasRenderingContext2D;
  pctx.fillStyle = '#444';
  pctx.fillRect(0, 0, 1, 4);
  const ctx0 = canvas.getContext('2d') as CanvasRenderingContext2D;
  const hatch = ctx0.createPattern(pc, 'repeat');
  const datasets: any[] = [
    lineDs([{ x: X_MIN, y: 0 }, { x: X_MAX, y: 0 }], '#000', 1, { order: 10 }),
    lineDs(pts(oscSlow), GREEN, 4, {
      cubicInterpolationMode: 'monotone',
      order: 1,
      segment: {
        borderColor: (c: any) => {
          const xv = c.p0.parsed.x;
          return oscGrayRanges.some(([a, b]) => xv >= a && xv < b) ? GRAY : GREEN;
        },
      },
    }),
    lineDs(pts(oscFast), '#000', 1.2, {
      cubicInterpolationMode: 'monotone',
      order: 2,
      fill: { target: 1, above: hatch, below: hatch },
    }),
  ];
  const decor = {
    id: 'oscDecor',
    afterDatasetsDraw(chart: any) {
      drawTexts(chart, oscBlueLabels, '#1a1acc', `bold 14px ${FONT}`);
      drawTexts(chart, oscGrayLabels, '#8a8a8a', `bold 14px ${FONT}`);
    },
    afterDraw(chart: any) {
      const { ctx, chartArea: a, scales } = chart;
      oscTags.forEach(([t, v]) => drawTag(ctx, a.right + 1, scales.y.getPixelForValue(v as number), t as string, '#22dd22', '#000'));
      drawFrame(chart);
    },
  };
  return new Chart(canvas, {
    type: 'line',
    data: { datasets },
    options: {
      ...baseOptions(),
      scales: {
        x: xHidden,
        y: {
          position: 'right',
          min: -27,
          max: 29,
          afterFit: fitY,
          ticks: { display: false },
          grid: { display: false },
          border: { display: true, color: '#000' },
        },
      },
    } as any,
    plugins: [decor],
  } as any);
}

function buildMarkers(canvas: HTMLCanvasElement) {
  const datasets: any[] = [
    {
      type: 'bar',
      data: markerBars.map((x) => ({ x, y: [0.05, 0.6] })),
      backgroundColor: '#f5a000',
      barThickness: 3,
      grouped: false,
    },
  ];
  const decor = {
    id: 'markerDecor',
    afterDatasetsDraw(chart: any) {
      const { ctx, chartArea: a } = chart;
      ctx.save();
      ctx.fillStyle = '#000';
      ctx.font = `11px ${FONT}`;
      ctx.textAlign = 'left';
      ctx.textBaseline = 'middle';
      ctx.fillText(copyrightText, 3, a.top + 11);
      ctx.restore();
    },
    afterDraw(chart: any) {
      const { ctx, chartArea: a, scales } = chart;
      drawTag(ctx, a.right + 1, scales.y.getPixelForValue(0), '0', '#f5a000', '#000');
      drawFrame(chart);
    },
  };
  return new Chart(canvas, {
    type: 'bar',
    data: { datasets },
    options: {
      ...baseOptions(),
      scales: {
        x: {
          type: 'linear',
          min: X_MIN,
          max: X_MAX,
          offset: false,
          position: 'bottom',
          afterBuildTicks: (s: any) => {
            s.ticks = timeTickBars.map((v) => ({ value: v }));
          },
          afterFit: (s: any) => {
            s.height = 42;
            s.paddingLeft = 0;
            s.paddingRight = 0;
          },
          ticks: {
            autoSkip: false,
            maxRotation: 0,
            padding: 8,
            color: '#000',
            font: { family: FONT, size: 13 },
            callback: (_v: any, i: number) => timeTickLabels[i],
          },
          grid: { display: false, drawTicks: false },
          border: { display: true, color: '#000' },
        },
        y: {
          position: 'right',
          min: -0.2,
          max: 1,
          afterFit: fitY,
          ticks: { display: false },
          grid: { display: false },
          border: { display: true, color: '#000' },
        },
      },
    } as any,
    plugins: [decor],
  } as any);
}

const PANELS = [
  { top: 0, h: 690, build: buildPrice },
  { top: 690, h: 64, build: buildVolume },
  { top: 754, h: 68, build: buildStoch },
  { top: 822, h: 56, build: buildOsc },
  { top: 878, h: 60, build: buildMarkers },
];

export default function App() {
  const refs = useRef<(HTMLCanvasElement | null)[]>([]);
  useEffect(() => {
    const charts = PANELS.map((p, i) => p.build(refs.current[i] as HTMLCanvasElement));
    return () => charts.forEach((c) => c.destroy());
  }, []);
  return (
    <div style={{ position: 'absolute', left: 0, top: 0, width: W, height: 952, background: '#fff', overflow: 'hidden' }}>
      {PANELS.map((p, i) => (
        <canvas
          key={i}
          ref={(el) => {
            refs.current[i] = el;
          }}
          width={W}
          height={p.h}
          style={{ position: 'absolute', left: 0, top: p.top, width: W, height: p.h, display: 'block' }}
        />
      ))}
    </div>
  );
}
